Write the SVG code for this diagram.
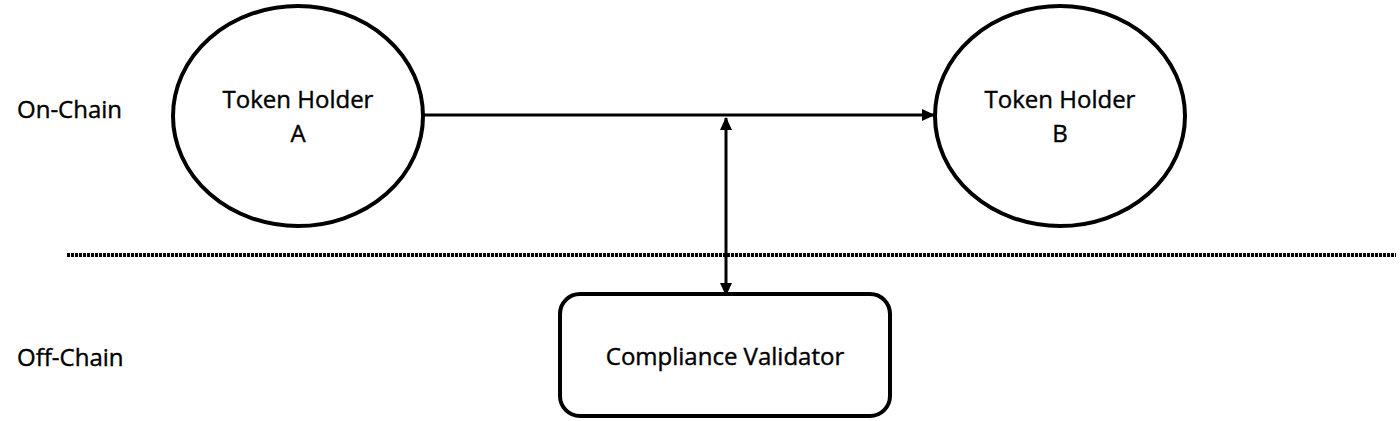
<svg xmlns="http://www.w3.org/2000/svg" width="1400" height="421" viewBox="0 0 1400 421">
<defs>
<style>
text{font-family:"Open Sans","Noto Sans",sans-serif;font-size:24px;fill:#000;stroke:#000;stroke-width:0.4}
.n{fill:#fff;stroke:#000;stroke-width:4}
.c{fill:none;stroke:#000;stroke-width:3}
</style>
<marker id="ah" markerWidth="13" markerHeight="12" refX="12" refY="6" orient="auto-start-reverse" markerUnits="userSpaceOnUse"><path d="M0,0 L13,6 L0,12 z" fill="#000"/></marker>
</defs>
<rect width="1400" height="421" fill="#fff"/>
<text x="17" y="118">On-Chain</text>
<text x="17" y="366">Off-Chain</text>
<line x1="67" y1="255" x2="1396" y2="255" stroke="#000" stroke-width="4" stroke-dasharray="3 1"/>
<g id="nodeA"><ellipse class="n" cx="298" cy="116" rx="125" ry="110"/><text x="298" y="108" text-anchor="middle">Token Holder</text><text x="298" y="142" text-anchor="middle">A</text></g>
<g id="nodeB"><ellipse class="n" cx="1060" cy="116" rx="125" ry="110"/><text x="1060" y="108" text-anchor="middle">Token Holder</text><text x="1060" y="142" text-anchor="middle">B</text></g>
<g id="nodeC"><rect class="n" x="560" y="294" width="330" height="122" rx="20"/><text x="725" y="365" text-anchor="middle">Compliance Validator</text></g>
<g id="connectors">
<line class="c" x1="424" y1="115" x2="934" y2="115" marker-end="url(#ah)"/>
<line class="c" x1="726" y1="118" x2="726" y2="295" stroke-width="4" marker-start="url(#ah)" marker-end="url(#ah)"/>
</g>
</svg>
